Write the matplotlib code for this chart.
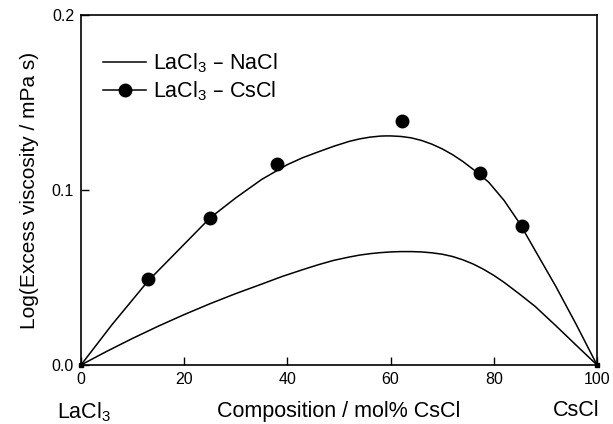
import matplotlib
matplotlib.use("Agg")
import matplotlib.pyplot as plt

plt.rcParams['font.family'] = ['Liberation Sans', 'DejaVu Sans']
plt.rcParams['mathtext.default'] = 'regular'

# measured points, LaCl3 - CsCl
cs_x = [13, 25, 38, 62.3, 77.3, 85.4]
cs_y = [0.049, 0.084, 0.1146, 0.1394, 0.1095, 0.0793]

# fitted curve, LaCl3 - CsCl
cs_fit_x = [0, 6, 13, 20, 25, 30, 35, 40, 43, 46, 49, 52, 54, 56, 58, 59, 60, 62, 64, 66, 68, 70, 72,
            74, 76, 79, 82, 85, 88, 92, 96, 100]
cs_fit_y = [0, 0.023, 0.048, 0.069, 0.084, 0.0955, 0.106, 0.1145, 0.1185, 0.1218, 0.125, 0.1278, 0.1292,
            0.1302, 0.1308, 0.1309, 0.1309, 0.1306, 0.1298, 0.1283, 0.1262, 0.1235, 0.1202,
            0.1163, 0.1118, 0.1045, 0.094, 0.081, 0.0655, 0.045, 0.023, 0]

# curve, LaCl3 - NaCl
na_x = [0, 5, 10, 15, 20, 25, 30, 35, 39, 43, 46, 49, 52, 54, 56, 58, 60, 62, 64, 66, 68, 70, 72, 74, 76,
        78, 80, 82, 85, 88, 92, 96, 100]
na_y = [0, 0.0078, 0.0152, 0.0222, 0.0288, 0.035, 0.0408, 0.0462, 0.0506, 0.0545, 0.0573, 0.0598,
        0.0617, 0.0628, 0.0636, 0.0642, 0.0646, 0.0648, 0.0648, 0.0646, 0.0641, 0.0633, 0.0620,
        0.0601, 0.0577, 0.0547, 0.0512, 0.0472, 0.0405, 0.0335, 0.0225, 0.0112, 0]

fig = plt.figure(figsize=(6.13, 4.24), dpi=100)
ax = fig.add_axes([0.1321, 0.1392, 0.9739 - 0.1321, 0.9646 - 0.1392])

ax.plot(na_x, na_y, color='black', lw=1.1, label='LaCl$_3$ – NaCl')
ax.plot(cs_fit_x, cs_fit_y, color='black', lw=1.1)
ax.plot([0, 100], [0, 0], 's', color='black', markersize=3.5, clip_on=False)
ax.plot(cs_x, cs_y, 'o', color='black', markersize=9)
# legend proxy for line + marker
ax.plot([], [], color='black', lw=1.1, marker='o', markersize=9, label='LaCl$_3$ – CsCl')

ax.set_xlim(0, 100)
ax.set_ylim(0, 0.2)
ax.set_xticks([0, 20, 40, 60, 80, 100])
ax.set_yticks([0.0, 0.1, 0.2])
ax.set_yticklabels(['0.0', '0.1', '0.2'])
ax.tick_params(direction='in', length=5.5, width=1, labelsize=11.5, pad=5)
for s in ax.spines.values():
    s.set_linewidth(1.2)

ax.set_xlabel('Composition / mol% CsCl', fontsize=15.5, labelpad=10)
ax.set_ylabel('Log(Excess viscosity / mPa s)', fontsize=15, labelpad=9)

ax.text(0.005, -0.1, 'LaCl$_3$', transform=ax.transAxes, fontsize=15.5, ha='center', va='top')
ax.text(0.96, -0.1, 'CsCl', transform=ax.transAxes, fontsize=15.5, ha='center', va='top')

ax.legend(loc='upper left', bbox_to_anchor=(0.043, 0.895), frameon=False, fontsize=15.5,
          handlelength=2.0, handletextpad=0.3, labelspacing=0.2, borderpad=0, borderaxespad=0)

fig.savefig('out.png', dpi=100)
